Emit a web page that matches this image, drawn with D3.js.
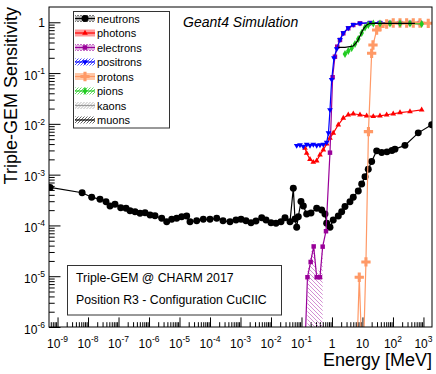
<!DOCTYPE html>
<html>
<head>
<meta charset="utf-8">
<script src="https://cdn.jsdelivr.net/npm/d3@7"></script>
<style>
  body { margin: 0; background: #fff; }
</style>
</head>
<body>
<div id="chart"></div>
<script>
// ---- data (energy in MeV, sensitivity) ----
const neutronE = [5.7e-10, 6.4e-9, 1.32e-8, 2.47e-8, 3.89e-8, 5.26e-8, 7.67e-8, 1.18e-7, 1.76e-7, 2.38e-7,
  3.48e-7, 5.07e-7, 7.4e-7, 1.08e-6, 1.57e-6, 2.61e-6, 3.8e-6, 5.55e-6, 8.1e-6, 1.18e-5,
  1.72e-5, 2.21e-5, 3.66e-5, 6.03e-5, 1.0e-4, 1.66e-4, 2.67e-4, 4.53e-4, 7.12e-4, 1.04e-3,
  1.51e-3, 2.21e-3, 3.22e-3, 4.95e-3, 6.86e-3, 1.0e-2, 1.46e-2, 2.13e-2, 2.88e-2, 4.2e-2,
  5.39e-2, 6.12e-2, 6.96e-2, 7.86e-2, 9.63e-2, 0.115, 0.148, 0.205, 0.315, 0.459,
  0.589, 0.67, 0.86, 1.10, 1.61, 2.08, 2.67, 3.89, 4.99, 7.28,
  9.42, 12.1, 15.5, 20.0, 29.2, 42.6, 63.5, 92.7, 116, 247, 676, 1857];
const neutronS = [5.6e-4, 4.4e-4, 3.6e-4, 3.27e-4, 2.93e-4, 2.41e-4, 2.61e-4, 2.23e-4, 2.17e-4, 1.95e-4,
  1.86e-4, 1.73e-4, 1.78e-4, 1.60e-4, 1.55e-4, 1.38e-4, 1.18e-4, 1.32e-4, 1.38e-4, 1.48e-4,
  1.53e-4, 1.18e-4, 1.24e-4, 1.32e-4, 1.32e-4, 1.38e-4, 1.24e-4, 1.18e-4, 1.28e-4, 1.32e-4,
  1.24e-4, 1.13e-4, 1.22e-4, 1.42e-4, 1.28e-4, 1.13e-4, 1.10e-4, 1.18e-4, 1.42e-4, 1.18e-4,
  5.4e-4, 1.34e-4, 9.2e-5, 1.48e-4, 2.96e-4, 2.41e-4, 1.68e-4, 1.75e-4, 2.17e-4, 2.01e-4,
  1.68e-4, 1.10e-4, 9.2e-5, 1.28e-4, 1.53e-4, 1.86e-4, 2.36e-4, 2.93e-4, 3.58e-4, 4.77e-4,
  6.56e-4, 9.14e-4, 1.28e-3, 1.81e-3, 2.94e-3, 2.72e-3, 2.81e-3, 2.98e-3, 3.18e-3, 3.77e-3, 6.65e-3, 9.58e-3];

const photonE = [0.130, 0.148, 0.190, 0.244, 0.315, 0.404, 0.519, 0.67, 0.86, 1.10, 1.61, 2.35,
  3.42, 4.99, 8.28, 13.7, 22.6, 37.5, 62.1, 102, 170, 361, 873];
const photonS = [3.32e-3, 2.64e-3, 2.01e-3, 1.76e-3, 1.87e-3, 2.45e-3, 3.07e-3, 4.04e-3, 5.23e-3, 6.56e-3,
  9.58e-3, 1.30e-2, 1.51e-2, 1.58e-2, 1.51e-2, 1.44e-2, 1.40e-2, 1.44e-2, 1.51e-2, 1.58e-2, 1.67e-2, 1.75e-2, 1.89e-2];

const electronE = [0.12, 0.157, 0.2, 0.251, 0.315, 0.404, 0.495, 0.636, 0.86, 1.05, 1.25, 1.49,
  1.83, 2.35, 3.42, 4.99, 8.28, 17.6, 37.5, 79.8, 170, 361, 767];
const electronS = [1e-7, 9.55e-6, 1.91e-5, 3.86e-5, 9.55e-6, 9.55e-6, 3.82e-5, 7.69e-5, 2.71e-3, 8.27e-2,
  0.21, 0.331, 0.449, 0.607, 0.762, 0.885, 0.955, 0.97, 0.97, 0.97, 0.97, 0.97, 0.97];
// error band of the low-energy electron points (upper edge / lower edge)
const electronBandE = [0.157, 0.2, 0.251, 0.315, 0.404, 0.495];
const electronBandHi = [1.3e-5, 2.6e-5, 5.2e-5, 1.3e-5, 1.3e-5, 5.0e-5];
const electronBandLo = [1e-7, 1e-7, 1e-7, 1e-7, 1e-7, 1e-7];

const positronE = [6.96e-2, 8.93e-2, 0.115, 0.148, 0.190, 0.244, 0.315, 0.404, 0.519, 0.67, 0.768, 0.86,
  0.977, 1.16, 1.43, 1.83, 2.35, 3.42, 4.99, 8.28, 17.6, 37.5, 79.8, 170, 361, 767];
const positronS = [3.74e-3, 3.86e-3, 3.6e-3, 3.95e-3, 3.77e-3, 3.95e-3, 3.77e-3, 3.86e-3, 3.95e-3, 4.32e-3,
  6.65e-3, 1.89e-2, 7.4e-2, 0.198, 0.299, 0.456, 0.618, 0.775, 0.901, 0.955, 0.975, 0.975, 0.975, 0.975, 0.975, 0.975];

const protonE = [6.17, 7.85, 10.2, 13.0, 15.7, 20.0, 22.1, 29.2, 37.5, 62.1, 102, 170, 281, 463, 767, 1436];
const protonS = [1e-7, 9.55e-6, 1e-7, 1.91e-5, 7.02e-3, 0.245, 0.357, 0.705, 0.826, 0.926, 0.969, 0.969,
  0.969, 0.969, 0.969, 0.955];

const pionE = [2.67, 3.42, 4.42, 5.68, 7.28, 9.42, 12.1, 15.5, 22.6, 37.5, 79.8, 170, 361, 873];
const pionS = [0.238, 0.272, 0.312, 0.374, 0.469, 0.616, 0.79, 0.885, 0.947, 0.947, 0.947, 0.947, 0.947, 0.926];

const kaonE = [];
const kaonS = [];

const muonE = [1.61, 2.67, 4.99, 6.6, 8.28, 10.6, 13.7, 17.6, 526];
const muonS = [0.322, 0.322, 0.341, 0.409, 0.537, 0.738, 0.885, 0.955, 0.955];

const xTickPowers = [-9, -8, -7, -6, -5, -4, -3, -2, -1, 0, 1, 2, 3];
const yTickPowers = [-6, -5, -4, -3, -2, -1, 0];
const legendNames = ['neutrons', 'photons', 'electrons', 'positrons', 'protons', 'pions', 'kaons', 'muons'];

// ---- layout ----
const width = 436;
const height = 374;
const plot = { left: 49, right: 432, top: 7, bottom: 327 };

const svg = d3.select('#chart')
  .append('svg')
  .attr('width', width)
  .attr('height', height)
  .style('font-family', '"Liberation Sans", Arial, sans-serif');

const x = d3.scaleLog().domain([5.25e-10, 1905]).range([plot.left, plot.right]);
const y = d3.scaleLog().domain([1e-6, 2]).range([plot.bottom, plot.top]);

// patterns for the error-band fills
const defs = svg.append('defs');
defs.append('clipPath').attr('id', 'plotClip')
  .append('rect')
  .attr('x', plot.left).attr('y', plot.top)
  .attr('width', plot.right - plot.left).attr('height', plot.bottom - plot.top);

function hatch(id, color, fwd, back, step) {
  const p = defs.append('pattern').attr('id', id)
    .attr('patternUnits', 'userSpaceOnUse').attr('width', step).attr('height', step);
  if (fwd) p.append('path').attr('d', `M-1,1 l2,-2 M0,${step} l${step},${-step} M${step - 1},${step + 1} l2,-2`)
    .attr('stroke', color).attr('stroke-width', 0.7);
  if (back) p.append('path').attr('d', `M-1,${step - 1} l2,2 M0,0 l${step},${step} M${step - 1},-1 l2,2`)
    .attr('stroke', color).attr('stroke-width', 0.7);
}
hatch('hN', '#444', true, true, 3);
hatch('hE', '#c060c0', false, true, 4);
hatch('hEl', '#b030b0', true, true, 3);
hatch('hP', '#0000ff', true, false, 3);
hatch('hPi', '#22cc22', true, false, 3);
hatch('hK', '#999', true, false, 3);
hatch('hM', '#222', true, false, 3);

const series = [
  { name: 'neutrons', E: neutronE, S: neutronS, color: '#000', sym: d3.symbolCircle, size: 38, rot: 0, box: 'url(#hN)' },
  { name: 'photons', E: photonE, S: photonS, color: '#ff0000', sym: d3.symbolTriangle, size: 14, rot: 0, box: '#ff9a9a' },
  { name: 'electrons', E: electronE, S: electronS, color: '#990099', sym: d3.symbolSquare, size: 20, rot: 0, box: 'url(#hEl)' },
  { name: 'positrons', E: positronE, S: positronS, color: '#0000ff', sym: d3.symbolTriangle, size: 14, rot: 180, box: 'url(#hP)' },
  { name: 'protons', E: protonE, S: protonS, color: '#ff9966', sym: d3.symbolCross, size: 48, rot: 0, box: '#ffc8a8' },
  { name: 'pions', E: pionE, S: pionS, color: '#22cc22', sym: d3.symbolDiamond, size: 18, rot: 0, box: 'url(#hPi)' },
  { name: 'kaons', E: kaonE, S: kaonS, color: '#999999', sym: null, size: 0, rot: 0, box: 'url(#hK)' },
  { name: 'muons', E: muonE, S: muonS, color: '#000', sym: null, size: 0, rot: 0, box: 'url(#hM)' },
];

// ---- axes (ROOT style: ticks inside the frame) ----
const xDom = x.domain();
const xMinor = [];
for (let p = -10; p <= 3; p++) {
  for (let d = 2; d <= 9; d++) {
    const v = d * Math.pow(10, p);
    if (v > xDom[0] && v < xDom[1]) xMinor.push(v);
  }
}
const yMinor = [];
for (let p = -6; p <= 0; p++) {
  for (let d = 2; d <= 9; d++) {
    const v = d * Math.pow(10, p);
    if (v < 2) yMinor.push(v);
  }
}
const xMajor = xTickPowers.map((p) => Math.pow(10, p));
const yMajor = yTickPowers.map((p) => Math.pow(10, p));

function axisGroup(axis, tx, ty) {
  svg.append('g')
    .attr('transform', `translate(${tx},${ty})`)
    .call(axis)
    .call((g) => g.select('.domain').remove());
}
axisGroup(d3.axisTop(x).tickValues(xMinor).tickSize(4.8).tickFormat(''), 0, plot.bottom);
axisGroup(d3.axisTop(x).tickValues(xMajor).tickSize(9.6).tickFormat(''), 0, plot.bottom);
axisGroup(d3.axisRight(y).tickValues(yMinor).tickSize(5.7).tickFormat(''), plot.left, 0);
axisGroup(d3.axisRight(y).tickValues(yMajor).tickSize(11.5).tickFormat(''), plot.left, 0);

// tick labels with superscript exponents
function powLabel(sel, p) {
  if (p === 0) { sel.text('1'); return; }
  if (p === 1) { sel.text('10'); return; }
  sel.append('tspan').text('10');
  sel.append('tspan').attr('dy', -5.5).attr('font-size', 8.5).text(p);
}
svg.append('g').selectAll('text')
  .data(xTickPowers)
  .join('text')
  .attr('x', (p) => x(Math.pow(10, p)))
  .attr('y', 347.5)
  .attr('text-anchor', 'middle')
  .attr('font-size', 12)
  .each(function (p) { powLabel(d3.select(this), p); });

svg.append('g').selectAll('text')
  .data(yTickPowers)
  .join('text')
  .attr('x', 45)
  .attr('y', (p) => y(Math.pow(10, p)) + (p === 0 ? 4.3 : 6.5))
  .attr('text-anchor', 'end')
  .attr('font-size', 12)
  .each(function (p) { powLabel(d3.select(this), p); });

// axis titles
svg.append('text')
  .attr('transform', 'translate(17,7) rotate(-90)')
  .attr('text-anchor', 'end')
  .attr('font-size', 18)
  .text('Triple-GEM Sensitivity');
svg.append('text')
  .attr('x', 432)
  .attr('y', 366)
  .attr('text-anchor', 'end')
  .attr('font-size', 18)
  .text('Energy [MeV]');

// ---- curves ----
const plotG = svg.append('g').attr('clip-path', 'url(#plotClip)');

// hatched error band under the low-energy electron points
const band = electronBandE.map((e, i) => [e, electronBandHi[i]])
  .concat(electronBandE.map((e, i) => [e, electronBandLo[i]]).reverse());
plotG.append('path')
  .attr('d', d3.line().x((d) => x(d[0])).y((d) => y(d[1]))(band) + 'Z')
  .attr('fill', 'url(#hE)')
  .attr('stroke', 'none');

const line = d3.line().x((d) => x(d[0])).y((d) => y(d[1]));
series.forEach((s) => {
  const pts = s.E.map((e, i) => [e, s.S[i]]);
  if (!pts.length) return;
  plotG.append('path')
    .attr('d', line(pts))
    .attr('fill', 'none')
    .attr('stroke', s.color)
    .attr('stroke-width', 1.2);
  if (!s.sym) return;
  plotG.append('g').selectAll('path')
    .data(pts.filter((d) => d[1] >= 1e-6))
    .join('path')
    .attr('d', d3.symbol(s.sym, s.size))
    .attr('transform', (d) => `translate(${x(d[0])},${y(d[1])}) rotate(${s.rot})`)
    .attr('fill', s.color);
});

// frame
svg.append('rect')
  .attr('x', plot.left).attr('y', plot.top)
  .attr('width', plot.right - plot.left).attr('height', plot.bottom - plot.top)
  .attr('fill', 'none').attr('stroke', '#000').attr('stroke-width', 1);

// ---- legend ----
const leg = svg.append('g');
leg.append('rect')
  .attr('x', 73.5).attr('y', 11.5).attr('width', 96).attr('height', 116.5)
  .attr('fill', '#fff').attr('stroke', '#333').attr('stroke-width', 1);
const rows = leg.selectAll('g.row')
  .data(series.filter((s) => legendNames.includes(s.name)))
  .join('g')
  .attr('class', 'row')
  .attr('transform', (d, i) => `translate(0,${18.5 + i * 14.5})`);
rows.append('rect')
  .attr('x', 75).attr('y', -3.5).attr('width', 20).attr('height', 7)
  .attr('fill', (d) => d.box);
rows.append('line')
  .attr('x1', 75).attr('x2', 95)
  .attr('stroke', (d) => d.color).attr('stroke-width', 1.2);
rows.filter((d) => d.sym)
  .append('path')
  .attr('d', (d) => d3.symbol(d.sym, d.size)())
  .attr('transform', (d) => `translate(85,0) rotate(${d.rot})`)
  .attr('fill', (d) => d.color);
rows.append('text')
  .attr('x', 97).attr('y', 4)
  .attr('font-size', 11)
  .text((d) => d.name);

// ---- annotations ----
svg.append('text')
  .attr('x', 183).attr('y', 26.5)
  .attr('font-size', 14)
  .attr('font-style', 'italic')
  .text('Geant4 Simulation');

svg.append('rect')
  .attr('x', 67.5).attr('y', 265.5).attr('width', 214).attr('height', 49.5)
  .attr('fill', '#fff').attr('stroke', '#333').attr('stroke-width', 1);
svg.append('text')
  .attr('x', 76).attr('y', 282.3)
  .attr('font-size', 12.3)
  .text('Triple-GEM @ CHARM 2017');
svg.append('text')
  .attr('x', 76).attr('y', 303.5)
  .attr('font-size', 12.3)
  .text('Position R3 - Configuration CuCIIC');
</script>
</body>
</html>
